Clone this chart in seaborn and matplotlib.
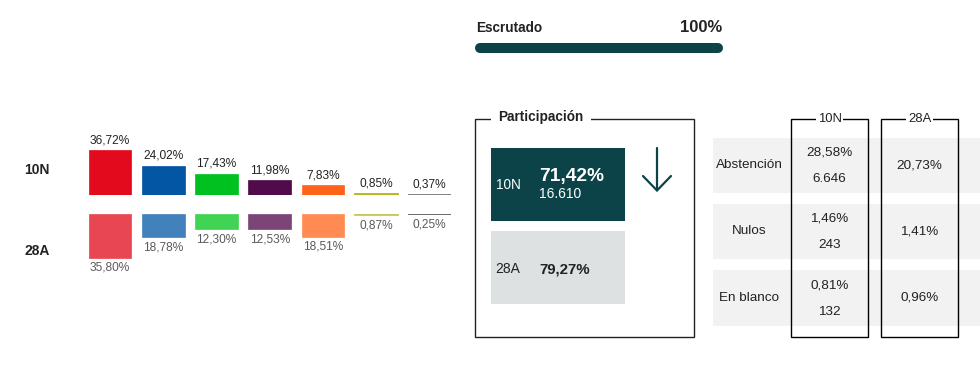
import pandas as pd
import matplotlib.pyplot as plt
import seaborn as sns
from matplotlib.patches import Rectangle

# --- data ---
partidos = ["PSOE", "PP", "Vox", "Podemos", "Cs", "Otro A", "Otro B"]
pct_10n = [36.72, 24.02, 17.43, 11.98, 7.83, 0.85, 0.37]
pct_28a = [35.80, 18.78, 12.30, 12.53, 18.51, 0.87, 0.25]
colores_10n = ["#E30A1D", "#0256A4", "#00C11F", "#510A4A", "#FF6219", "#B4B51B", "#777777"]
colores_28a = ["#E84653", "#4381BC", "#40D354", "#7B4577", "#FF8A52", "#C6C75E", "#5C5C5C"]

escrutado = 100
part_10n_pct = 71.42
part_10n_votos = 16610
part_28a_pct = 79.27

filas = ["Abstención", "Nulos", "En blanco"]
tabla_10n_pct = [28.58, 1.46, 0.81]
tabla_10n_votos = [6646, 243, 132]
tabla_28a_pct = [20.73, 1.41, 0.96]

DARK = "#0B4348"
INK = "#222222"


def fmt_pct(v):
    return f"{v:.2f}".replace(".", ",") + "%"


def fmt_int(n):
    return f"{n:,}".replace(",", ".")


sns.set_theme(style="white")
plt.rcParams["font.family"] = ["Liberation Sans", "DejaVu Sans"]

W, H = 980, 371
fig = plt.figure(figsize=(W / 100, H / 100), dpi=100)

# overlay axes in pixel coordinates for the text panels
ov = fig.add_axes([0, 0, 1, 1])
ov.set_xlim(0, W)
ov.set_ylim(H, 0)
ov.axis("off")


def px_axes(x0, y0, x1, y1):
    return fig.add_axes([x0 / W, (H - y1) / H, (x1 - x0) / W, (y1 - y0) / H])


# --- bar rows (10N up, 28A down) ---
step = 53.25
left = 110 - step / 2
right = left + 7 * step
ymax = 40
hpx = ymax * 1.225

df10 = pd.DataFrame({"partido": partidos, "pct": pct_10n})
df28 = pd.DataFrame({"partido": partidos, "pct": pct_28a})

ax10 = px_axes(left, 195 - hpx, right, 195)
sns.barplot(data=df10, x="partido", y="pct", hue="partido", palette=colores_10n,
            legend=False, saturation=1, width=0.8, ax=ax10)
ax10.set_ylim(0, ymax)
ax10.set_xlim(-0.5, 6.5)
ax10.axis("off")
for i, v in enumerate(pct_10n):
    ax10.annotate(fmt_pct(v), (i, v), xytext=(0, 4), textcoords="offset pixels",
                  ha="center", va="bottom", fontsize=8.6, color=INK)

ax28 = px_axes(left, 214, right, 214 + hpx)
sns.barplot(data=df28, x="partido", y="pct", hue="partido", palette=colores_28a,
            legend=False, saturation=1, width=0.8, ax=ax28)
ax28.set_ylim(ymax, 0)
ax28.set_xlim(-0.5, 6.5)
ax28.axis("off")
for i, v in enumerate(pct_28a):
    ax28.annotate(fmt_pct(v), (i, v), xytext=(0, -4), textcoords="offset pixels",
                  ha="center", va="top", fontsize=8.6, color="#5a5a5a")

# edge in the bar's own colour so the tiny values still show as a 2px line
for ax in (ax10, ax28):
    for p in ax.patches:
        p.set_edgecolor(p.get_facecolor())
        p.set_linewidth(1.3 if abs(p.get_height()) < 2 else 0.5)

ov.text(24, 170, "10N", fontsize=10, fontweight="bold", color=INK, va="center")
ov.text(24, 251, "28A", fontsize=10, fontweight="bold", color=INK, va="center")

# --- escrutado ---
ov.text(476, 28, "Escrutado", fontsize=9.8, fontweight="bold", color=INK, va="center")
ov.text(722, 28, f"{escrutado}%", fontsize=12, fontweight="bold", color=INK,
        va="center", ha="right")
ov.plot([480, 718], [48, 48], color="#E6E6E6", lw=7.2, solid_capstyle="round")
ov.plot([480, 480 + 238 * escrutado / 100], [48, 48], color=DARK, lw=7.2,
        solid_capstyle="round")

# --- participación box ---
ov.add_patch(Rectangle((475, 118.5), 219, 218.5, fill=False, edgecolor=INK, lw=1))
ov.text(541, 121.5, "Participación", fontsize=9.8, fontweight="bold", color=INK,
        ha="center", va="baseline",
        bbox=dict(facecolor="white", edgecolor="none", pad=5))
ov.add_patch(Rectangle((491, 148), 134, 73, facecolor=DARK, edgecolor="none"))
ov.add_patch(Rectangle((491, 231), 134, 73, facecolor="#DEE1E1", edgecolor="none"))
ov.text(496, 185, "10N", fontsize=9.8, color="white", va="center")
ov.text(539, 181, fmt_pct(part_10n_pct), fontsize=13.8, fontweight="bold",
        color="white", va="baseline")
ov.text(539, 198, fmt_int(part_10n_votos), fontsize=10, color="white", va="baseline")
ov.text(495, 273, "28A", fontsize=10, color=INK, va="baseline")
ov.text(539, 273, fmt_pct(part_28a_pct), fontsize=10.8, fontweight="bold",
        color=INK, va="baseline")
# arrow: turnout fell
ov.plot([657, 657], [148, 190], color=DARK, lw=1.6)
ov.plot([643, 657, 671], [176, 190.5, 176], color=DARK, lw=1.6,
        solid_joinstyle="miter")

# --- abstención / nulos / en blanco table ---
row_spans = [(138, 193), (204, 259), (270, 326)]
col10, col28 = 829.5, 919.5
for (y0, y1), nombre, p10, n10, p28 in zip(row_spans, filas, tabla_10n_pct,
                                            tabla_10n_votos, tabla_28a_pct):
    ov.add_patch(Rectangle((713, y0), W - 713, y1 - y0, facecolor="#F2F2F2",
                           edgecolor="none"))
    yc = (y0 + y1) / 2
    ov.text(749, yc, nombre, fontsize=9.7, color=INK, ha="center", va="center")
    ov.text(col10, yc - 13, fmt_pct(p10), fontsize=9.7, color=INK, ha="center",
            va="center")
    ov.text(col10, yc + 14, fmt_int(n10), fontsize=9.7, color=INK, ha="center",
            va="center")
    ov.text(col28, yc, fmt_pct(p28), fontsize=9.7, color=INK, ha="center",
            va="center")

for x0, titulo in [(791, "10N"), (881, "28A")]:
    ov.add_patch(Rectangle((x0, 118.5), 77, 218.5, fill=False, edgecolor="black",
                           lw=1))
    ov.text(x0 + 38.5, 119, titulo, fontsize=9.4, color=INK, ha="center",
            va="center", bbox=dict(facecolor="white", edgecolor="none", pad=1))

fig.savefig("out.png", dpi=100)
